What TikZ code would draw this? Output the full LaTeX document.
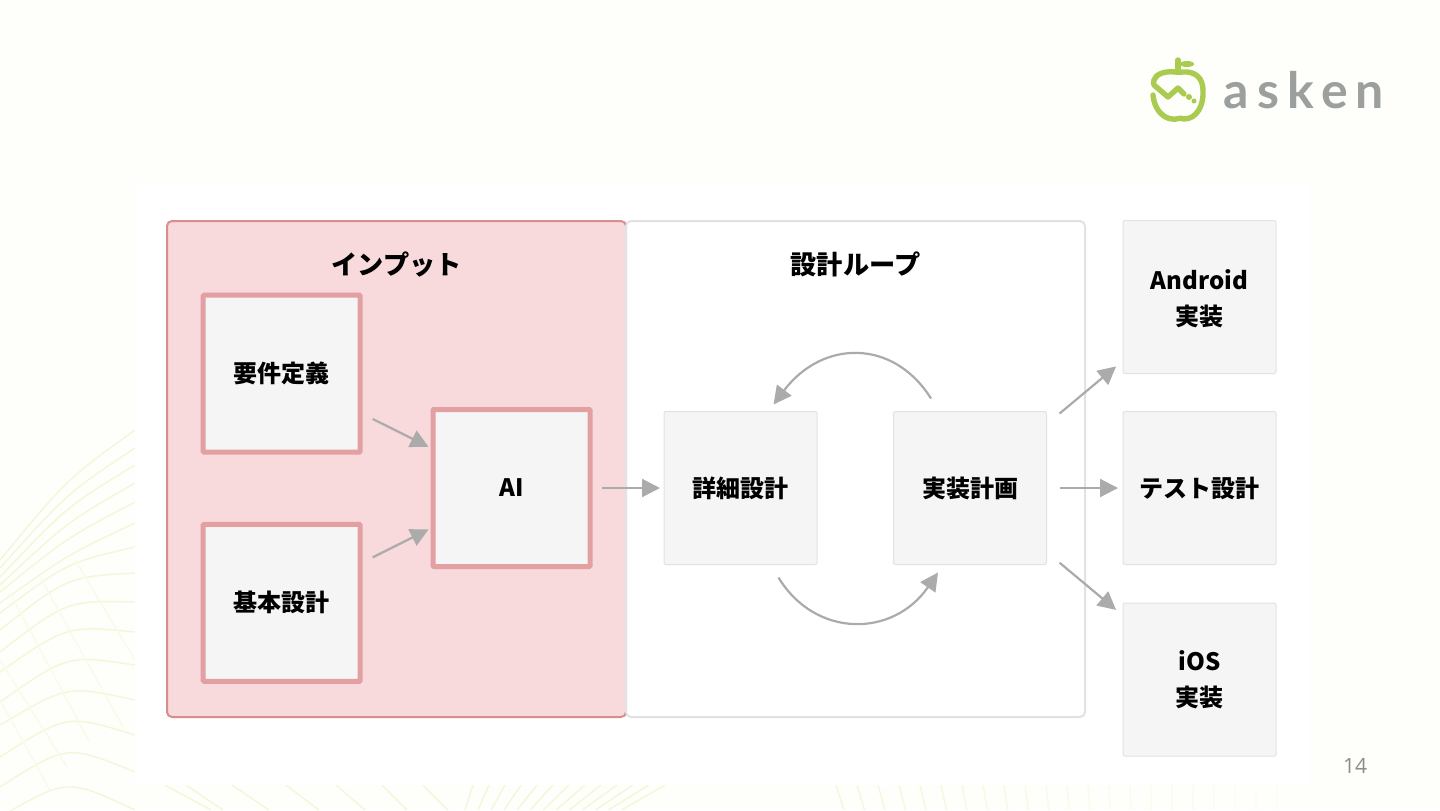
\documentclass[tikz,border=0pt]{standalone}
\usepackage{fontspec}
\setmainfont{Noto Sans CJK JP}
\newfontfamily\askenfont[LetterSpace=16.5]{Lato Bold}
\newfontfamily\pagefont{Open Sans}
\usepackage{tikz}
\usetikzlibrary{arrows.meta}
\definecolor{paper}{HTML}{FEFFFA}
\definecolor{wave}{HTML}{F3F7DA}
\definecolor{wavelight}{HTML}{F9FBEA}
\definecolor{pinkfill}{HTML}{F8D9DC}
\definecolor{pinkline}{HTML}{D98E8E}
\definecolor{pinkbox}{HTML}{E3A0A2}
\definecolor{boxfill}{HTML}{F5F5F5}
\definecolor{boxline}{HTML}{E2E2E2}
\definecolor{arrowgray}{HTML}{ABABAB}
\definecolor{apple}{HTML}{A9CB50}
\definecolor{logogray}{HTML}{9B9F9E}
\tikzset{
  lbl/.style={font=\bfseries\fontsize{12}{18}\selectfont,text=black,align=center},
  ttl/.style={font=\bfseries\fontsize{13.1}{18}\selectfont,text=black},
  input/.style={draw=pinkbox,line width=2.5pt,fill=boxfill,minimum width=78.5pt,minimum height=78.5pt,rounded corners=0.5pt,outer sep=0pt,lbl},
  plain/.style={draw=boxline,line width=0.5pt,fill=boxfill,minimum width=76.5pt,minimum height=76.5pt,rounded corners=1pt,outer sep=0pt,lbl},
  flow/.style={draw=arrowgray,line width=1.1pt,-{Triangle[length=9pt,width=9pt]}},
  ln/.style={wave,line width=0.7pt}
}
\begin{document}
\begin{tikzpicture}[x=0.5pt,y=-0.5pt]
\useasboundingbox (0,0) rectangle (1440,810);
\fill[paper] (0,0) rectangle (1440,810);
\foreach \ya/\ym/\yb in {560/483/430,568/497/448,577/510/465,585/525/483,592/540/502,603/557/523,613/567/547,630/583/573,652/607/602,672/632/632,702/662/665,725/692/700,757/722/735,787/753/772,817/787/810}
  \draw[ln] (0,\ya) .. controls (67,{(\ym-0.125*(\ya+\yb))/0.75}) .. (135,\yb);
\foreach \xa/\ya/\xb/\yb in {40/577/123/727,10/593/90/743,0/660/67/767,0/700/50/790,75/560/135/660}
  \draw[wavelight,line width=0.7pt] (\xa,\ya) -- (\xb,\yb);
\foreach \xa/\xb in {165/211,186/223,232/269,286/319,336/365,382/407,423/448}
  \draw[ln] (\xa,785) -- (\xb,810);
\foreach \xa [evaluate=\xa as \dx using {-8-(\xa-473)*37/200}] in {473,489,...,673}
  \draw[ln] (\xa,785) -- (\xa+\dx,810);
\foreach \xa [evaluate=\xa as \op using {max(1-(\xa-836)/480,0.12)},evaluate=\xa as \dx using {max(8-(\xa-836)/40,0)}] in {836,857,...,1290}
  \draw[ln,opacity=\op] (\xa,785) -- (\xa+\dx,810);
\fill[white] (135,183) rectangle (1310,785);
\node[fill=pinkfill,draw=pinkline,line width=1pt,rounded corners=2.5pt,minimum width=229.5pt,minimum height=248pt,outer sep=0pt] (inputarea) at (396.5,469) {};
\node[fill=white,draw=boxline,line width=1pt,rounded corners=2.5pt,minimum width=229.5pt,minimum height=248pt,outer sep=0pt] (looparea) at (855.5,469) {};
\node[ttl] (inputtitle) at (396.5,264.5) {インプット};
\node[ttl] (looptitle) at (855.5,264.5) {設計ループ};
\node[input] (req) at (281.7,373.7) {要件定義};
\node[input] (basic) at (281.7,602.8) {基本設計};
\node[input] (ai) at (511.5,488) {AI};
\node[plain] (detail) at (740.5,488) {詳細設計};
\node[plain] (plan) at (970,488) {実装計画};
\node[plain] (android) at (1199.5,297) {\rule{0pt}{12pt}Android\\実装};
\node[plain] (test) at (1199.5,488) {テスト設計};
\node[plain] (ios) at (1199.5,679.5) {\rule{0pt}{10pt}iOS\\実装};
\draw[flow,shorten <=7pt,shorten >=2.5pt] (req) -- (ai);
\draw[flow,shorten <=7pt,shorten >=2.5pt] (basic) -- (ai);
\draw[flow,shorten <=6pt,shorten >=2pt] (ai) -- (detail);
\draw[flow,shorten <=6.5pt,shorten >=2.5pt] (plan) -- (test);
\draw[flow,shorten <=8.5pt,shorten >=4.5pt] (plan) -- (android);
\draw[flow,shorten <=8.5pt,shorten >=4.5pt] (plan) -- (ios);
\draw[flow] ([shift={(-39,-13)}]plan.north) .. controls (893,338) and (822,340) .. ([shift={(33,-7)}]detail.north);
\draw[flow] ([shift={(38,13)}]detail.south) .. controls (815,638) and (893,638) .. ([shift={(-32,8)}]plan.south);
\begin{scope}[apple,line width=2.7pt,line cap=round,line join=round]
\draw (1153,95) .. controls (1154,108) and (1162,118) .. (1172,119) .. controls (1176,120) and (1180,117) .. (1184,119) .. controls (1197,119) and (1204,105) .. (1203,90) .. controls (1203,78) and (1195,71) .. (1183,72) .. controls (1178,73) and (1172,71) .. (1167,72) .. controls (1158,73) and (1152,78) .. (1154,85) -- (1168,97) -- (1178,88) -- (1184,94);
\draw (1178,60) -- (1178,72);
\fill (1187,64) ellipse (7 and 3);
\fill (1189,97) circle (3);
\fill (1194,101) circle (2.5);
\end{scope}
\node[font=\askenfont\fontsize{25}{25}\selectfont,text=logogray,anchor=base west,inner sep=0pt] (logo) at (1223,108) {asken};
\node[font=\pagefont\fontsize{10.5}{12}\selectfont,text=gray!90] (pagenum) at (1355,766) {14};
\end{tikzpicture}
\end{document}
